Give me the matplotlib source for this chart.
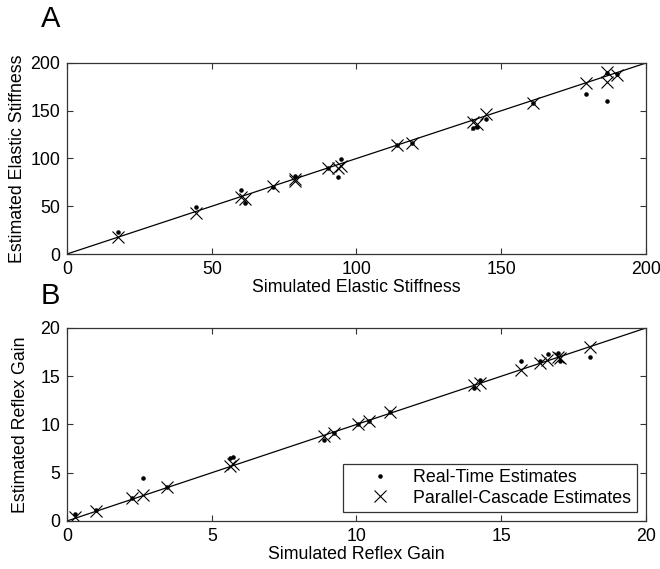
import matplotlib
matplotlib.use("Agg")
import matplotlib.pyplot as plt
import numpy as np

plt.rcParams['font.family'] = ['Liberation Sans', 'DejaVu Sans']

# Panel A: elastic stiffness
a_sim_pc = [17.7, 44.4, 60.0, 61.5, 71.3, 78.9, 78.9, 90.0, 93.5, 94.6, 113.9, 119.3, 140.3, 141.5, 144.7, 160.9, 179.2, 186.4, 186.4, 189.9]
a_est_pc = [18.1, 42.6, 60.0, 57.5, 71.2, 76.5, 79.0, 89.7, 90.0, 92.0, 114.0, 115.9, 138.5, 136.0, 146.3, 157.8, 179.4, 190.9, 180.4, 187.4]
a_sim_rt = [17.7, 44.4, 60.0, 61.5, 71.3, 78.9, 90.0, 93.5, 94.6, 113.9, 119.3, 140.3, 141.5, 144.7, 160.9, 179.2, 186.4, 186.4, 189.9]
a_est_rt = [23.4, 48.9, 67.0, 53.7, 70.0, 81.7, 89.7, 81.0, 99.8, 114.0, 115.9, 131.6, 132.7, 141.0, 157.8, 167.2, 190.0, 160.5, 188.0]

# Panel B: reflex gain
b_sim_pc = [0.28, 0.99, 2.23, 2.64, 3.44, 5.63, 5.72, 8.89, 9.22, 10.04, 10.43, 11.16, 14.07, 14.27, 15.68, 16.34, 16.57, 16.97, 17.03, 18.07]
b_est_pc = [0.38, 1.0, 2.35, 2.7, 3.49, 5.7, 5.9, 8.8, 9.09, 10.08, 10.36, 11.26, 14.09, 14.33, 15.65, 16.4, 16.7, 17.0, 16.85, 18.06]
b_sim_rt = [0.28, 0.99, 2.23, 2.64, 3.44, 5.63, 5.72, 8.89, 9.22, 10.04, 10.43, 11.16, 14.07, 14.27, 15.68, 16.34, 16.6, 16.97, 17.03, 18.07]
b_est_rt = [0.72, 1.1, 2.35, 4.5, 3.5, 6.5, 6.6, 8.39, 9.09, 10.1, 10.36, 11.26, 13.8, 14.6, 16.6, 16.6, 17.3, 17.4, 16.6, 17.0]

a_ticks = [0, 50, 100, 150, 200]
b_ticks = [0, 5, 10, 15, 20]

fig = plt.figure(figsize=(6.6, 5.69), dpi=100)
axA = fig.add_axes([0.1015, 0.5536, 0.8773, 0.3357])
axB = fig.add_axes([0.1015, 0.0844, 0.8773, 0.3392])

FS = 12.8

def style(ax, ticks):
    ax.set_xlim(ticks[0], ticks[-1])
    ax.set_ylim(ticks[0], ticks[-1])
    ax.set_xticks(ticks)
    ax.set_yticks(ticks)
    ax.tick_params(direction='in', length=4, width=0.8, top=True, right=True,
                   labelsize=FS, colors='#333333', labelcolor='black', pad=5)
    for s in ax.spines.values():
        s.set_color('#333333')
        s.set_linewidth(0.9)
    ax.plot([ticks[0], ticks[-1]], [ticks[0], ticks[-1]], color='black', lw=0.9)

style(axA, a_ticks)
axA.plot(a_sim_rt, a_est_rt, '.', color='black', ms=4.5, label='Real-Time Estimates')
axA.plot(a_sim_pc, a_est_pc, 'x', color='black', ms=8, mew=0.8, label='Parallel-Cascade Estimates')
axA.set_xlabel('Simulated Elastic Stiffness', fontsize=FS, labelpad=1)
axA.set_ylabel('Estimated Elastic Stiffness', fontsize=FS, labelpad=3)

style(axB, b_ticks)
axB.plot(b_sim_rt, b_est_rt, '.', color='black', ms=4.5, label='Real-Time Estimates')
axB.plot(b_sim_pc, b_est_pc, 'x', color='black', ms=8, mew=0.8, label='Parallel-Cascade Estimates')
axB.set_xlabel('Simulated Reflex Gain', fontsize=FS, labelpad=1)
axB.set_ylabel('Estimated Reflex Gain', fontsize=FS, labelpad=8)
leg = axB.legend(loc='lower right', bbox_to_anchor=(0.984, 0.047), borderaxespad=0,
                 fontsize=FS, frameon=True, fancybox=False, edgecolor='black',
                 borderpad=0.3, handletextpad=0.15, labelspacing=0.2,
                 handlelength=3.5, markerscale=1.0)
leg.get_frame().set_linewidth(0.9)

fig.text(0.062, 0.952, 'A', fontsize=21)
fig.text(0.062, 0.465, 'B', fontsize=21)

fig.savefig('out.png', dpi=100)
